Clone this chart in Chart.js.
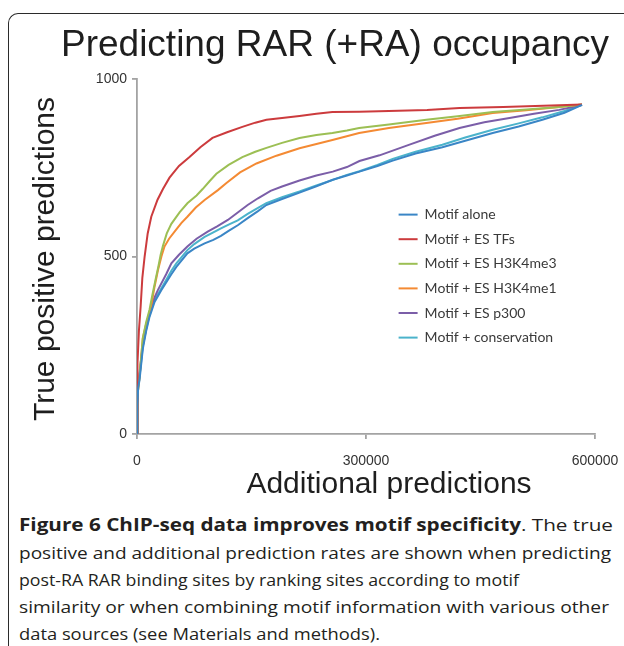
<!DOCTYPE html>
<html><head><meta charset="utf-8">
<script src="https://cdn.jsdelivr.net/npm/chart.js@4.4.1/dist/chart.umd.min.js"></script>
<style>
html,body{margin:0;padding:0;background:#fff;}
body{width:624px;height:646px;overflow:hidden;position:relative;}
#frame{position:absolute;left:8px;top:13px;width:700px;height:700px;border-top:1.3px solid #2b2b2b;border-left:1.3px solid #2b2b2b;border-top-left-radius:10px;}
#wrap{position:absolute;left:0;top:0;width:624px;height:500px;}
#cap{position:absolute;left:19px;top:0;font-family:"Open Sans",sans-serif;color:#231f20;}
.ln{position:absolute;left:0;white-space:nowrap;font-size:17px;line-height:20px;transform-origin:0 0;}
.ln b{font-weight:700;}
</style></head><body>
<div id="frame"></div>
<div id="wrap"><canvas id="c"></canvas></div>
<div id="cap">
<div class="ln" style="top:515px"><b>Figure 6 ChIP-seq data improves motif specificity</b>. The true</div>
<div class="ln" style="top:543px">positive and additional prediction rates are shown when predicting</div>
<div class="ln" style="top:570px">post-RA RAR binding sites by ranking sites according to motif</div>
<div class="ln" style="top:597px">similarity or when combining motif information with various other</div>
<div class="ln" style="top:624px">data sources (see Materials and methods).</div>
</div>
<script>
// ---- data ----
const chartTitle = 'Predicting RAR (+RA) occupancy';
const xTitle = 'Additional predictions';
const yTitle = 'True positive predictions';
const seriesNames = ['Motif alone','Motif + ES TFs','Motif + ES H3K4me3','Motif + ES H3K4me1','Motif + ES p300','Motif + conservation'];
const xTicks = [0, 300000, 600000];
const yTicks = [0, 500, 1000];

const motifAloneX = [0,500,1500,3300,7600,12000,16400,23000,31800,38200,45000,51300,66000,75000,88600,100000,110000,120000,132000,145000,158500,169400,190000,212900,235000,256500,275000,291400,315000,335000,365000,400000,430000,466000,500000,531000,560000,583000];
const motifAloneY = [0,80,130,152,240,290,330,372,405,427,450,470,509,522,537,547,558,572,588,608,628,645,662,680,698,716,728,739,755,770,790,808,826,848,866,885,905,927];

const esTFsX = [0,300,1000,2500,4800,7000,10000,14000,18700,26900,34000,42600,55000,68800,83000,98900,118000,138000,155000,169600,190000,212900,235000,256000,291000,330000,380000,422500,480000,553000,583000];
const esTFsY = [0,120,200,290,360,440,500,565,612,660,690,722,755,780,808,834,850,865,877,885,890,896,902,907,908,910,913,918,921,926,928];

const h3k4me3X = [0,300,1000,3300,7600,12000,16400,20000,24000,28000,31000,34000,39000,45000,56000,66000,78000,86000,95000,104000,120000,138000,155000,169600,190000,212900,235000,256000,275000,291000,330000,379000,420000,466000,510000,553000,583000];
const h3k4me3Y = [0,60,110,160,270,315,350,390,432,472,505,530,565,592,625,650,672,690,712,733,758,780,795,806,820,834,842,848,855,862,872,885,895,907,914,921,928];

const h3k4me1X = [0,300,1000,3300,7600,12000,16400,19000,23000,27500,32000,36000,42000,50000,58000,66000,77000,88600,106000,117200,135000,156500,182700,212900,256000,291000,330000,379000,420000,466000,510000,553000,583000];
const h3k4me1Y = [0,60,110,160,270,310,340,365,415,462,500,528,550,572,594,612,638,659,687,707,737,762,784,805,828,848,862,876,888,904,912,921,928];

const p300X = [0,500,1500,3300,7600,9800,16400,23000,27500,38200,45000,55000,66000,78000,92600,105000,119000,132000,145000,158500,175000,190000,212900,235000,256500,275000,291400,317700,357000,390000,422500,455000,488000,520000,553000,583000];
const p300Y = [0,80,130,172,250,273,345,385,406,450,481,505,528,550,570,585,603,624,645,664,685,697,714,728,739,752,769,785,815,840,862,878,890,902,913,927];

const conservationX = [0,500,1500,3300,7600,12000,16400,23000,31800,38200,45000,51300,66000,75000,88600,100000,110000,120000,132000,145000,158500,169400,190000,212900,235000,256500,275000,291400,315000,335000,365000,400000,430000,466000,500000,531000,560000,583000];
const conservationY = [0,90,140,160,246,295,335,378,410,434,460,480,518,535,555,568,579,590,602,620,637,650,667,683,700,716,730,740,758,775,795,815,835,857,875,892,910,927];

const seriesX = [motifAloneX, esTFsX, h3k4me3X, h3k4me1X, p300X, conservationX];
const seriesY = [motifAloneY, esTFsY, h3k4me3Y, h3k4me1Y, p300Y, conservationY];
const colors = ['#3a86c6','#cc3b3d','#9cbf54','#f48a33','#7b5ea8','#4bb3cb'];

// ---- chart ----
const axisColor = '#a3a3a3';
const datasets = seriesNames.map((n,i)=>({
  label:n,
  data: seriesX[i].map((x,j)=>({x:x,y:seriesY[i][j]})),
  borderColor: colors[i], backgroundColor: colors[i],
  borderWidth: 2, pointRadius: 0, tension: 0, fill:false
}));

const titlesPlugin = {
  id:'figTitles',
  afterDraw(chart){
    const ctx = chart.ctx;
    ctx.save();
    ctx.fillStyle = '#1e1e1e';
    ctx.textAlign = 'center';
    ctx.textBaseline = 'alphabetic';
    ctx.font = '37px "Liberation Sans", Arial, sans-serif';
    ctx.fillText(chartTitle, 335, 56);
    ctx.font = '30px "Liberation Sans", Arial, sans-serif';
    ctx.fillText(xTitle, 389, 493);
    ctx.translate(54, 259);
    ctx.rotate(-Math.PI/2);
    ctx.fillText(yTitle, 0, 0);
    ctx.restore();
  }
};
const legendMover = {
  id:'legendMover',
  beforeDraw(chart){
    const lg = chart.legend; if(!lg) return;
    const dx = 388 - lg.left, dy = 197 - lg.top;
    lg.left += dx; lg.right += dx; lg.top += dy; lg.bottom += dy;
    (lg.legendHitBoxes||[]).forEach(h=>{h.left+=dx; h.top+=dy;});
  }
};

new Chart(document.getElementById('c'), {
  type:'line',
  data:{datasets},
  plugins:[titlesPlugin, legendMover],
  options:{
    responsive:true, maintainAspectRatio:false, animation:false,
    layout:{padding:{top:79,left:0,right:29,bottom:0}},
    plugins:{
      title:{display:false},
      tooltip:{enabled:false},
      legend:{
        position:'chartArea', align:'start',
        labels:{usePointStyle:true, pointStyle:'line', pointStyleWidth:19, boxHeight:12,
          padding:10.6, color:'#3a3a3a', font:{family:'Lato, "Open Sans", sans-serif', size:14}}
      }
    },
    scales:{
      x:{type:'linear', min:0, max:600000,
        afterBuildTicks:s=>{s.ticks = xTicks.map(v=>({value:v}));},
        afterFit:s=>{s.height = 66; s.paddingLeft = 0; s.paddingRight = 0;},
        ticks:{padding:14, color:'#333', font:{family:'"Liberation Sans", Arial', size:14}, maxRotation:0, callback:v=>String(v)},
        grid:{display:true, drawOnChartArea:false, drawTicks:true, tickLength:5, color:axisColor, lineWidth:1.8},
        border:{display:true, color:axisColor, width:1.8}
      },
      y:{type:'linear', min:0, max:1000,
        afterBuildTicks:s=>{s.ticks = yTicks.map(v=>({value:v}));},
        afterFit:s=>{s.width = 137; s.paddingTop = 0; s.paddingBottom = 0;},
        ticks:{padding:5, color:'#333', font:{family:'"Liberation Sans", Arial', size:14}, callback:v=>String(v)},
        grid:{display:true, drawOnChartArea:false, drawTicks:true, tickLength:5, color:axisColor, lineWidth:1.8},
        border:{display:true, color:axisColor, width:1.8}
      }
    }
  }
});

// caption line fitting to reference line widths
const capWidths = [594, 592, 500, 590, 361];
function fitCaption(){
  document.querySelectorAll('#cap .ln').forEach((el,i)=>{
    el.style.transform='none';
    const w = el.getBoundingClientRect().width;
    el.style.transform = 'scaleX(' + (capWidths[i]/w) + ')';
  });
}
fitCaption();
if (document.fonts && document.fonts.ready) document.fonts.ready.then(fitCaption);
</script>
</body></html>
